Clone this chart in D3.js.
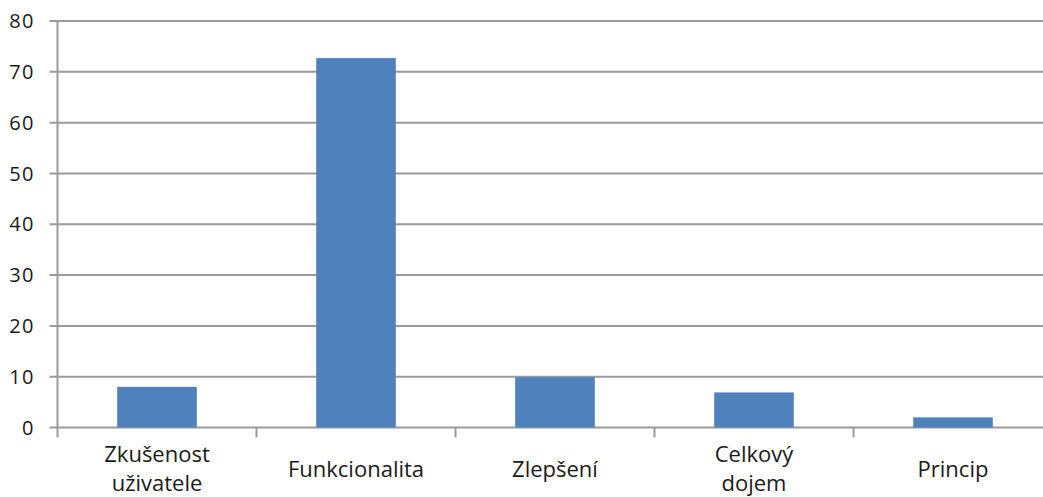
<!DOCTYPE html>
<html>
<head>
<meta charset="utf-8">
<script src="https://cdn.jsdelivr.net/npm/d3@7"></script>
<style>
  html, body { margin: 0; padding: 0; background: #fff; }
  svg { display: block; }
  text { font-family: "Open Sans", "Noto Sans", sans-serif; fill: #1a1a1a; }
</style>
</head>
<body>
<svg id="chart" width="1043" height="497"></svg>
<script>
// Category labels (split into lines) and bar values
const categories = [
  ["Zkušenost", "uživatele"],
  ["Funkcionalita"],
  ["Zlepšení"],
  ["Celkový", "dojem"],
  ["Princip"]
];
const values = [8.0, 72.7, 9.9, 6.9, 2.0];
const yTicks = [0, 10, 20, 30, 40, 50, 60, 70, 80];

const svg = d3.select("#chart");
const x0 = 57.5, bandW = 199, y0 = 427.5, yTop = 21;

const keys = categories.map((c, i) => i);
const x = d3.scaleBand()
  .domain(keys)
  .range([x0, x0 + bandW * keys.length])
  .paddingInner(0.6)
  .paddingOuter(0.3);

const y = d3.scaleLinear().domain([0, 80]).range([y0, yTop]);

// horizontal gridlines with tick marks on the left
svg.append("g").selectAll("line")
  .data(yTicks)
  .join("line")
  .attr("x1", x0 - 8)
  .attr("x2", 1043)
  .attr("y1", d => y(d))
  .attr("y2", d => y(d))
  .attr("stroke", "#9a9a9a")
  .attr("stroke-width", 2);

// y tick labels
svg.append("g").selectAll("text")
  .data(yTicks)
  .join("text")
  .attr("x", 35)
  .attr("y", d => y(d))
  .attr("dy", "0.36em")
  .attr("text-anchor", "end")
  .attr("font-size", 20)
  .attr("letter-spacing", 1.5)
  .text(d => d);

// bars
svg.append("g").selectAll("rect")
  .data(values)
  .join("rect")
  .attr("x", (d, i) => x(i))
  .attr("width", x.bandwidth())
  .attr("y", d => y(d))
  .attr("height", d => y(0) - y(d))
  .attr("fill", "#4f81bd");

// y axis line
svg.append("line")
  .attr("x1", x0).attr("x2", x0)
  .attr("y1", yTop).attr("y2", y0 + 10)
  .attr("stroke", "#9a9a9a").attr("stroke-width", 2);

// category separator ticks below the x axis
const sepTicks = d3.range(1, keys.length).map(i => x0 + bandW * i);
svg.append("g").selectAll("line")
  .data(sepTicks)
  .join("line")
  .attr("x1", d => d).attr("x2", d => d)
  .attr("y1", y0).attr("y2", y0 + 10)
  .attr("stroke", "#9a9a9a").attr("stroke-width", 2);

// category labels, one text element per line
const lines = [];
categories.forEach((c, i) => c.forEach((t, j) => lines.push({ i, j, n: c.length, t })));
svg.append("g").selectAll("text")
  .data(lines)
  .join("text")
  .attr("text-anchor", "middle")
  .attr("font-size", 22)
  .attr("x", d => x(d.i) + x.bandwidth() / 2)
  .attr("y", d => d.n > 1 ? 462 + d.j * 29 : 477)
  .text(d => d.t);
</script>
</body>
</html>
